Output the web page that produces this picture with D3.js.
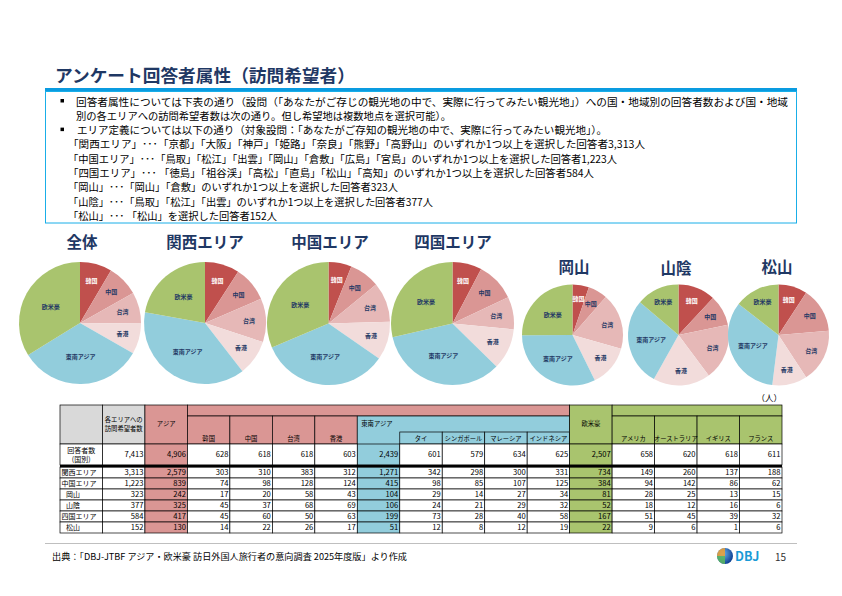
<!DOCTYPE html>
<html><head><meta charset="utf-8">
<script src="https://cdn.jsdelivr.net/npm/d3@7"></script>
<style>
body{margin:0;background:#fff}
svg{display:block}
text{font-family:"Noto Sans CJK JP","Noto Sans",sans-serif}
</style>
</head><body>
<svg id="c" width="842" height="596"></svg>
<script>
// ---------- data ----------
const title = "アンケート回答者属性（訪問希望者）";
const bulletLines = [
  {b:true,  t:"回答者属性については下表の通り（設問（「あなたがご存じの観光地の中で、実際に行ってみたい観光地」）への国・地域別の回答者数および国・地域", end:788},
  {b:false, t:"別の各エリアへの訪問希望者数は次の通り。但し希望地は複数地点を選択可能）。", end:451},
  {b:true,  t:"エリア定義については以下の通り（対象設問：「あなたがご存知の観光地の中で、実際に行ってみたい観光地」）。", end:607},
  {b:false, t:"「関西エリア」･･･「京都」「大阪」「神戸」「姫路」「奈良」「熊野」「高野山」のいずれか1つ以上を選択した回答者3,313人", end:645},
  {b:false, t:"「中国エリア」･･･「鳥取」「松江」「出雲」「岡山」「倉敷」「広島」「宮島」のいずれか1つ以上を選択した回答者1,223人", end:617},
  {b:false, t:"「四国エリア」･･･ 「徳島」「祖谷渓」「高松」「直島」「松山」「高知」のいずれか1つ以上を選択した回答者584人", end:594},
  {b:false, t:"「岡山」･･･「岡山」「倉敷」のいずれか1つ以上を選択した回答者323人", end:398},
  {b:false, t:"「山陰」･･･「鳥取」「松江」「出雲」のいずれか1つ以上を選択した回答者377人", end:433},
  {b:false, t:"「松山」･･･ 「松山」を選択した回答者152人", end:277}
];
const columns = ["各エリアへの訪問希望者数","アジア","韓国","中国","台湾","香港","東南アジア","タイ","シンガポール","マレーシア","インドネシア","欧米豪","アメリカ","オーストラリア","イギリス","フランス"];
const rowLabels = ["回答者数(国別)","関西エリア","中国エリア","岡山","山陰","四国エリア","松山"];
const totalRow   = [7413,4906,628,618,618,603,2439,601,579,634,625,2507,658,620,618,611];
const kansaiRow  = [3313,2579,303,310,383,312,1271,342,298,300,331,734,149,260,137,188];
const chugokuRow = [1223,839,74,98,128,124,415,98,85,107,125,384,94,142,86,62];
const okayamaRow = [323,242,17,20,58,43,104,29,14,27,34,81,28,25,13,15];
const saninRow   = [377,325,45,37,68,69,106,24,21,29,32,52,18,12,16,6];
const shikokuRow = [584,417,45,60,50,63,199,73,28,40,58,167,51,45,39,32];
const matsuyamaRow = [152,130,14,22,26,17,51,12,8,12,19,22,9,6,1,6];
const tableRows = [totalRow,kansaiRow,chugokuRow,okayamaRow,saninRow,shikokuRow,matsuyamaRow];
const pieSlices = ["韓国","中国","台湾","香港","東南アジア","欧米豪"];
const pieTitles = ["全体","関西エリア","中国エリア","四国エリア","岡山","山陰","松山"];
const pieRows   = [totalRow,kansaiRow,chugokuRow,shikokuRow,okayamaRow,saninRow,matsuyamaRow];
const sourceText = "出典：「DBJ-JTBF アジア・欧米豪 訪日外国人旅行者の意向調査 2025年度版」より作成";

// ---------- styles ----------
const navy = "#1f3864";
const sliceColors = ["#c0504d","#da9694","#e6b8b7","#f2dcdb","#92cddc","#a9c46e"];
const pink = "#da9694", blue = "#92cddc", green = "#a9c46e", gray = "#d9d9d9";

const svg = d3.select("#c");

// ---------- title & box ----------
svg.append("text").attr("x",55).attr("y",81.5).attr("font-size",17.6).attr("font-weight",700)
  .attr("fill",navy).attr("textLength",300).attr("lengthAdjust","spacingAndGlyphs").text(title);
svg.append("rect").attr("x",45).attr("y",88).attr("width",752).attr("height",3).attr("fill","#0a9be0");
svg.append("rect").attr("x",45.5).attr("y",91.5).attr("width",751).attr("height",131.5)
  .attr("fill","none").attr("stroke","#19aee8").attr("stroke-width",1);

const lineY = d3.scaleLinear().domain([0,8]).range([105.5,220]);
bulletLines.forEach((l,i)=>{
  const y = lineY(i);
  const x0 = i<3 ? (i===2?77:76) : 68;
  if(l.b) svg.append("rect").attr("x",60.5).attr("y",y-6.5).attr("width",3.5).attr("height",3.5).attr("fill","#000");
  svg.append("text").attr("x",x0).attr("y",y).attr("font-size",10.2).attr("fill","#000")
    .attr("textLength",l.end-x0).attr("lengthAdjust","spacingAndGlyphs").text(l.t);
});

// ---------- pies ----------
const pieLayout = [
  {cx:80,cy:323,r:61,ty:248,tx:82},
  {cx:205,cy:323,r:61,ty:248,tx:205},
  {cx:328.5,cy:323.5,r:61.5,ty:248,tx:330},
  {cx:452.5,cy:323.5,r:61.5,ty:248,tx:453},
  {cx:572.5,cy:335,r:50.5,ty:273,tx:574},
  {cx:678.5,cy:335,r:50.5,ty:274,tx:676},
  {cx:778.5,cy:335,r:50.5,ty:273,tx:777}
];
const sliceIdx = [2,3,4,5,6,11];
const pie = d3.pie().sort(null).value(d=>d.v);
pieTitles.forEach((t,k)=>{
  const L = pieLayout[k];
  const data = sliceIdx.map((ci,j)=>({name:pieSlices[j], v:pieRows[k][ci], j}));
  const arcs = pie(data);
  const total = d3.sum(data,d=>d.v);
  const g = svg.append("g").attr("transform",`translate(${L.cx},${L.cy})`);
  const arc = d3.arc().innerRadius(0).outerRadius(L.r);
  g.selectAll("path").data(arcs).join("path").attr("d",arc).attr("fill",d=>sliceColors[d.data.j]);
  g.selectAll("text").data(arcs).join("text")
    .attr("transform",d=>{
      const frac = d.data.v/total;
      const rr = L.r*(frac>0.22?0.55:0.72);
      const a = (d.startAngle+d.endAngle)/2;
      return `translate(${rr*Math.sin(a)},${-rr*Math.cos(a)+2})`;
    })
    .attr("text-anchor","middle").attr("font-size",6).attr("font-weight",700)
    .attr("fill",d=>d.data.j===0?"#fff":navy).text(d=>d.data.name);
  svg.append("text").attr("x",L.tx).attr("y",L.ty).attr("text-anchor","middle")
    .attr("font-size",15.5).attr("font-weight",700).attr("fill",navy).text(t);
});

// ---------- table ----------
const xc = d3.scaleBand().domain(d3.range(17)).range([60,782]);
const cw = xc.bandwidth();
const yr = d3.scaleBand().domain(rowLabels.slice(1)).range([467,533]);
const T = svg.append("g");
const cell = (c0,c1,y0,y1,fill,stroke=true)=>{
  T.append("rect").attr("x",xc(c0)).attr("y",y0).attr("width",xc(c1)+cw-xc(c0)).attr("height",y1-y0)
   .attr("fill",fill).attr("stroke",stroke?"#000":"none").attr("stroke-width",0.7);
};
const txt = (x,y,s,anchor="middle",size=6.3)=>T.append("text").attr("x",x).attr("y",y)
  .attr("text-anchor",anchor).attr("font-size",size).attr("fill","#000").text(s);

// header
cell(0,0,405,444,gray); cell(1,1,405,444,gray); cell(2,2,405,444,pink);
cell(3,11,405,416,pink);
[3,4,5,6].forEach(c=>cell(c,c,416,444,pink));
cell(7,11,416,444,blue,false);
[8,9,10,11].forEach(c=>cell(c,c,432,444,blue));
T.append("path").attr("d",`M${xc(7)},416V444M${xc(11)+cw},416V444M${xc(7)},416H${xc(11)+cw}`).attr("stroke","#000").attr("stroke-width",0.7).attr("fill","none");
cell(12,12,405,444,green);
cell(13,16,405,416,green);
[13,14,15,16].forEach(c=>cell(c,c,416,444,green));

txt(xc(1)+cw/2,421.5,"各エリアへの");
txt(xc(1)+cw/2,430.5,"訪問希望者数");
txt(xc(2)+cw/2,426,columns[1]);
[2,3,4,5].forEach(i=>txt(xc(i+1)+cw/2,441,columns[i]));
txt(xc(7)+4,426,columns[6],"start");
[7,8,9,10].forEach(i=>txt(xc(i+1)+cw/2,441,columns[i]));
txt(xc(12)+cw/2,425.5,columns[11]);
[12,13,14,15].forEach(i=>txt(xc(i+1)+cw/2,441,columns[i]));

// body
const colFill = c => c===2?pink:(c===7?blue:(c===12?green:"#fff"));
const fmt = d3.format(",");
tableRows.forEach((row,r)=>{
  const y0 = r===0?444:yr(rowLabels[r]);
  const h = r===0?21:yr.bandwidth();
  for(let c=0;c<17;c++) cell(c,c,y0,y0+h,colFill(c));
  if(r===0){
    txt(xc(0)+cw/2,y0+8.5,"回答者数","middle",7);
    txt(xc(0)+cw/2,y0+17.5,"(国別)","middle",7);
  } else {
    const indent = ["岡山","山陰","松山"].includes(rowLabels[r]) ? 6 : 1.5;
    txt(xc(0)+indent,y0+h/2+2.6,rowLabels[r],"start",7);
  }
  row.forEach((v,i)=>txt(xc(i+1)+cw-1.5,y0+h/2+2.6,fmt(v),"end",7.6));
});
T.append("rect").attr("x",60).attr("y",464.8).attr("width",722).attr("height",2.6).attr("fill","#000");
txt(782,401,"（人）","end",8.5);

// ---------- footer ----------
svg.append("line").attr("x1",45).attr("x2",797).attr("y1",543.5).attr("y2",543.5).attr("stroke","#bfbfbf").attr("stroke-width",1);
svg.append("text").attr("x",52).attr("y",560).attr("font-size",8.6).attr("fill","#000")
  .attr("textLength",355).attr("lengthAdjust","spacingAndGlyphs").text(sourceText);
const defs = svg.append("defs");
const gr = defs.append("radialGradient").attr("id","lg").attr("cx","35%").attr("cy","35%").attr("r","70%");
gr.append("stop").attr("offset","0%").attr("stop-color","#6fb8f0");
gr.append("stop").attr("offset","100%").attr("stop-color","#0b3d91");
svg.append("circle").attr("cx",725).attr("cy",556).attr("r",8).attr("fill","url(#lg)");
svg.append("path").attr("d","M717,556 A8,8 0 0 1 725,548 L725,556 Z").attr("fill","#f0a030").attr("opacity",0.85);
svg.append("path").attr("d","M717,556 A8,8 0 0 0 725,564 L725,556 Z").attr("fill","#5cb85c").attr("opacity",0.85);
svg.append("text").attr("x",735).attr("y",561).attr("font-size",12.5).attr("font-weight",700).attr("fill","#1a9ad6").attr("font-family","DejaVu Sans").text("DBJ");
svg.append("text").attr("x",775).attr("y",560.5).attr("font-size",10).attr("fill","#333").attr("font-family","DejaVu Sans").text("15");
</script>
</body></html>
